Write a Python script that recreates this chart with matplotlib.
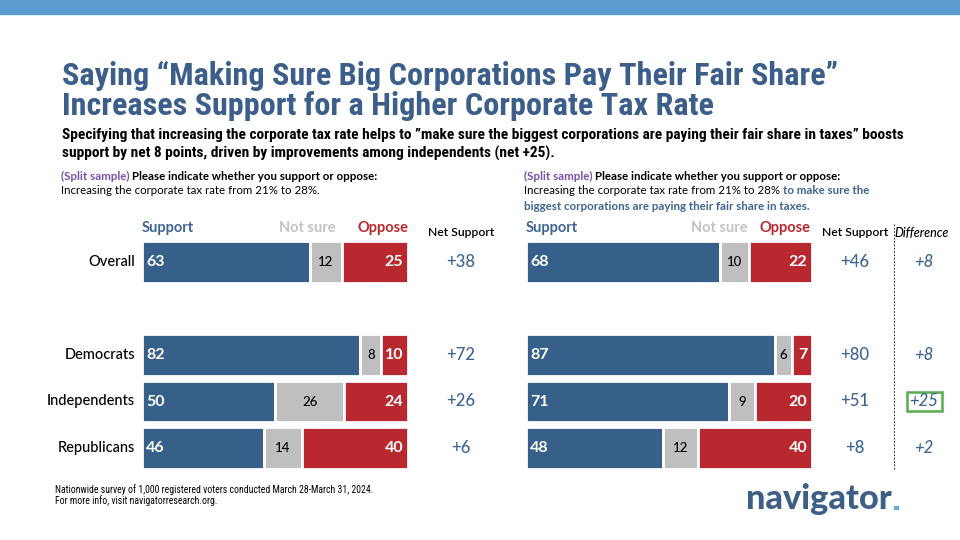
import matplotlib
matplotlib.use('Agg')
import matplotlib.pyplot as plt
from matplotlib import font_manager
from matplotlib.patches import Rectangle
from matplotlib.lines import Line2D

# data
groups = ['Overall', 'Democrats', 'Independents', 'Republicans']
left_support = [63, 82, 50, 46]
left_notsure = [12, 8, 26, 14]
left_oppose = [25, 10, 24, 40]
right_support = [68, 87, 71, 48]
right_notsure = [10, 6, 9, 12]
right_oppose = [22, 7, 20, 40]

left_net = [s - o for s, o in zip(left_support, left_oppose)]
right_net = [s - o for s, o in zip(right_support, right_oppose)]
difference = [r - l for r, l in zip(right_net, left_net)]

# colours
BLUE = '#365f89'
TXTBLUE = '#3d6592'
GRAY = '#bfbfbf'
RED = '#b8282e'
PURPLE = '#7b4fae'

names = {f.name for f in font_manager.fontManager.ttflist}


def pick(*cands):
    for c in cands:
        if c in names:
            return c
    return 'DejaVu Sans'


COND = pick('Liberation Sans Narrow', 'Roboto Condensed', 'Open Sans Condensed', 'Liberation Sans')
BODY = pick('Lato', 'Open Sans', 'DejaVu Sans')

W, H = 960, 540
fig = plt.figure(figsize=(9.6, 5.4), dpi=100)
renderer = fig.canvas.get_renderer()


def fx(x):
    return x / W


def fy(y):
    return 1 - y / H


def ftext(x, y, s, **kw):
    return fig.text(fx(x), fy(y), s, **kw)


def fit(t, width):
    # scale a text so it spans the given pixel width
    bb = t.get_window_extent(renderer)
    t.set_fontsize(t.get_fontsize() * width / bb.width)


def run(x, y, pieces, size):
    for txt, color, weight in pieces:
        t = ftext(x, y, txt, color=color, fontweight=weight, fontsize=size,
                  family=BODY, va='center')
        x = t.get_window_extent(renderer).x1


# top band
fig.patches.append(Rectangle((0, fy(14)), 1, 14 / H, transform=fig.transFigure,
                             color='#5b9bd0', zorder=0))

# title
t1 = ftext(62, 85, 'Saying \u201cMaking Sure Big Corporations Pay Their Fair Share\u201d',
           family=COND, fontweight='bold', color='#3b5e8b', fontsize=21, va='baseline')
fit(t1, 776)
t2 = ftext(62, 115, 'Increases Support for a Higher Corporate Tax Rate',
           family=COND, fontweight='bold', color='#3b5e8b', fontsize=t1.get_fontsize(),
           va='baseline')

s1 = ftext(62, 135, 'Specifying that increasing the corporate tax rate helps to \u201dmake sure the biggest '
           'corporations are paying their fair share in taxes\u201d boosts',
           family=COND, fontweight='bold', color='black', fontsize=11, va='center')
fit(s1, 840)
ftext(62, 153, 'support by net 8 points, driven by improvements among independents (net +25).',
      family=COND, fontweight='bold', color='black', fontsize=s1.get_fontsize(), va='center')

# question text
qs = 8.3
run(61, 176, [('(Split sample) ', PURPLE, 'bold'),
              ('Please indicate whether you support or oppose:', 'black', 'bold')], qs)
run(61, 191, [('Increasing the corporate tax rate from 21% to 28%.', 'black', 'normal')], qs)
run(524, 176, [('(Split sample) ', PURPLE, 'bold'),
               ('Please indicate whether you support or oppose:', 'black', 'bold')], qs)
run(524, 191, [('Increasing the corporate tax rate from 21% to 28% ', 'black', 'normal'),
               ('to make sure the', TXTBLUE, 'bold')], qs)
run(524, 206, [('biggest corporations are paying their fair share in taxes.', TXTBLUE, 'bold')], qs)

# bar panels
rows = [0, 2, 3, 4]
row_px = 46.5
top_px = 262 - row_px / 2
bot_px = top_px + row_px * 5


def panel(x0, x1, support, notsure, oppose):
    ax = fig.add_axes([fx(x0), fy(bot_px), (x1 - x0) / W, (bot_px - top_px) / H])
    ax.set_xlim(0, 100)
    ax.set_ylim(4.5, -0.5)
    ax.axis('off')
    left2 = [s + n for s, n in zip(support, notsure)]
    kw = dict(height=0.9, edgecolor='white', linewidth=2)
    ax.barh(rows, support, color=BLUE, **kw)
    ax.barh(rows, notsure, left=support, color=GRAY, **kw)
    ax.barh(rows, oppose, left=left2, color=RED, **kw)
    for r, s, n, o, l2 in zip(rows, support, notsure, oppose, left2):
        ax.text(1.5, r, str(s), color='white', fontweight='bold', fontsize=11.5,
                family=BODY, va='center', ha='left')
        ax.text(s + n / 2, r, str(n), color='black', fontsize=9.5, fontweight=500,
                family=BODY, va='center', ha='center')
        ax.text(98.3, r, str(o), color='white', fontweight='bold', fontsize=11.5,
                family=BODY, va='center', ha='right')
    return ax


panel(142, 408, left_support, left_notsure, left_oppose)
panel(526, 812, right_support, right_notsure, right_oppose)

# headers
hs = 10.5
for xs, xn, xo in [(142, 336, 408), (526, 748, 811)]:
    ftext(xs, 228, 'Support', color=TXTBLUE, fontweight='bold', fontsize=hs, family=BODY,
          va='center', ha='left')
    ftext(xn, 228, 'Not sure', color='#c3c3c3', fontweight='bold', fontsize=hs, family=BODY,
          va='center', ha='right')
    ftext(xo, 228, 'Oppose', color=RED, fontweight='bold', fontsize=hs, family=BODY,
          va='center', ha='right')

ftext(461, 233, 'Net Support', color='black', fontsize=8.7, fontweight=600, family=BODY,
      va='center', ha='center')
ftext(855, 233, 'Net Support', color='black', fontsize=8.7, fontweight=600, family=BODY,
      va='center', ha='center')
ftext(922, 233, 'Difference', color='black', fontsize=9, fontweight=500, family=BODY,
      style='italic', va='center', ha='center')

# category labels and net columns
for r, g, ln, rn, d in zip(rows, groups, left_net, right_net, difference):
    y = 262 + r * row_px
    ftext(135, y, g, color='black', fontsize=10.5, fontweight=500, family=BODY,
          va='center', ha='right')
    ftext(461, y, f'{ln:+d}', color=TXTBLUE, fontsize=12, fontweight=500, family=BODY,
          va='center', ha='center')
    ftext(855, y, f'{rn:+d}', color=TXTBLUE, fontsize=12, fontweight=500, family=BODY,
          va='center', ha='center')
    ftext(924, y, f'{d:+d}', color=TXTBLUE, fontsize=12, fontweight=500, family=BODY,
          style='italic', va='center', ha='center')

# dotted separator and highlight box
fig.lines.append(Line2D([fx(894), fx(894)], [fy(224), fy(470)], transform=fig.transFigure,
                        color='#333333', linestyle=(0, (1.5, 1.5)), linewidth=0.8))
fig.patches.append(Rectangle((fx(907), fy(411)), 35 / W, 19 / H, transform=fig.transFigure,
                             fill=False, edgecolor='#5aab4f', linewidth=1.8))

# footer
ftext(55, 490, 'Nationwide survey of 1,000 registered voters conducted March 28-March 31, 2024.',
      family=COND, fontsize=7, color='black', va='center')
ftext(55, 501, 'For more info, visit navigatorresearch.org.',
      family=COND, fontsize=7, color='black', va='center')

# logo
lg = ftext(746, 509, 'navigator', family=BODY, fontweight='black', fontsize=22,
           color='#3d5f86', va='baseline')
fit(lg, 145)
fig.patches.append(Rectangle((fx(894), fy(509)), 3.5 / W, 3.5 / H, transform=fig.transFigure,
                             color='#6fa8dc'))

fig.savefig('out.png', dpi=100)
